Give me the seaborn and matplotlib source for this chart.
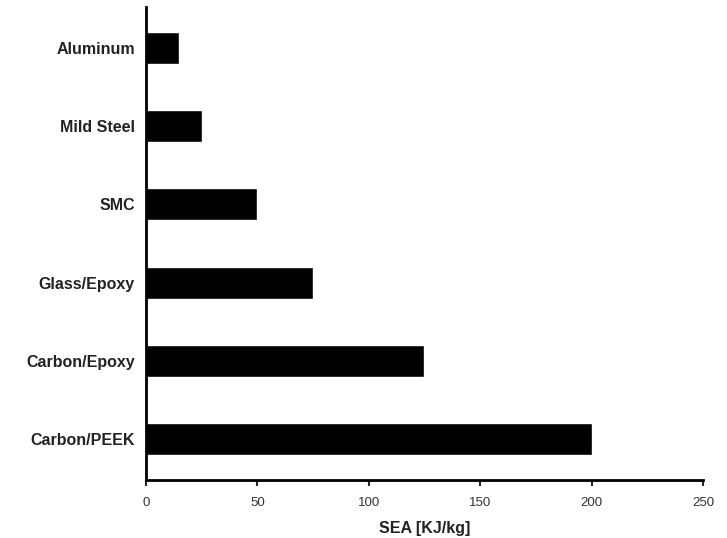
import matplotlib
matplotlib.use("Agg")
import matplotlib.pyplot as plt
import seaborn as sns
import pandas as pd

materials = ["Aluminum", "Mild Steel", "SMC", "Glass/Epoxy", "Carbon/Epoxy", "Carbon/PEEK"]
sea_values = [15, 25, 50, 75, 125, 200]
x_ticks = [0, 50, 100, 150, 200, 250]

sns.set_style("ticks")
plt.rcParams["font.family"] = ["Liberation Sans", "DejaVu Sans"]

df = pd.DataFrame({"Material": materials, "SEA": sea_values})

fig = plt.figure(figsize=(7.27, 5.38), dpi=100)
ax = fig.add_axes([0.2008, 0.1078, 0.7662, 0.8792])
sns.barplot(data=df, y="Material", x="SEA", order=materials, color="black",
            orient="h", width=0.41, saturation=1, ax=ax)

ax.set_xlim(0, 250)
ax.set_ylim(5.52, -0.52)
ax.set_xticks(x_ticks)
ax.set_xticklabels([str(t) for t in x_ticks], fontsize=9.5, color="#333333")
ax.tick_params(axis="y", length=0, pad=8)
ax.tick_params(axis="x", length=4, width=1.5, direction="out", pad=8)
for lab in ax.get_yticklabels():
    lab.set_fontweight("bold")
    lab.set_fontsize(11.5)
    lab.set_color("#222222")
ax.set_ylabel("")
ax.set_xlabel("SEA [KJ/kg]", fontsize=11.5, fontweight="bold", color="#222222", labelpad=9)
for s in ["top", "right"]:
    ax.spines[s].set_visible(False)
for s in ["left", "bottom"]:
    ax.spines[s].set_linewidth(2)
    ax.spines[s].set_color("black")

fig.savefig("out.png", dpi=100)
